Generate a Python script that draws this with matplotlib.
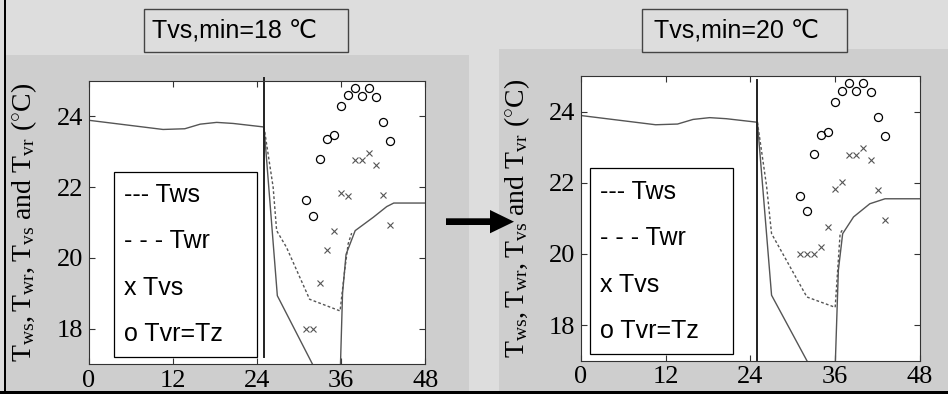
import matplotlib
matplotlib.use("Agg")
import matplotlib.pyplot as plt
from matplotlib.patches import Rectangle, Polygon

# ── Data ─────────────────────────────────────────────────────────────────────
TITLES = ["Tvs,min=18 \u2103", "Tvs,min=20 \u2103"]
X_TICKS = [0, 12, 24, 36, 48]
Y_TICKS = [18, 20, 22, 24]
LEGEND_ROWS = ["--- Tws", "- - - Twr", "x Tvs", "o Tvr=Tz"]
SWITCH_HOUR = 25

hours = [31, 32, 33, 34, 35, 36, 37, 38, 39, 40, 41, 42, 43]

# left panel (Tvs,min = 18)
tws_l_x = [0, 10.6, 13.7, 15.9, 18.25, 20.6, 25, 26.9, 31.9, 35.7, 36.2, 36.7, 38.0, 40.6, 42.5, 43.5, 48]
tws_l_y = [23.89, 23.63, 23.65, 23.78, 23.83, 23.80, 23.70, 18.93, 17.0, 15.6, 19.0, 20.1, 20.77, 21.15, 21.45, 21.55, 21.55]
twr_l_x = [25, 26.3, 26.8, 28.2, 31.5, 35.85, 36.5, 37.0, 37.5]
twr_l_y = [23.70, 22.0, 20.77, 20.30, 18.83, 18.50, 19.64, 20.40, 20.70]
tvs_l = [18.0, 18.0, 19.29, 20.21, 20.76, 21.84, 21.75, 22.78, 22.76, 22.97, 22.63, 21.77, 20.92]
tvr_l = [21.65, 21.18, 22.80, 23.36, 23.46, 24.28, 24.60, 24.80, 24.58, 24.80, 24.54, 23.84, 23.30]

# right panel (Tvs,min = 20)
tws_r_x = [0, 10.6, 13.7, 15.9, 18.25, 20.6, 25, 27.0, 32.0, 35.8, 36.45, 37.06, 38.6, 40.9, 43.05, 48]
tws_r_y = [23.89, 23.63, 23.65, 23.78, 23.83, 23.80, 23.70, 18.84, 17.0, 15.6, 19.54, 20.57, 21.04, 21.41, 21.55, 21.55]
twr_r_x = [25, 26.3, 27.0, 32.0, 36.0, 36.7, 37.1]
twr_r_y = [23.70, 21.90, 20.57, 18.79, 18.50, 20.57, 20.70]
tvs_r = [20.0, 20.0, 20.0, 20.19, 20.76, 21.83, 22.02, 22.79, 22.78, 22.98, 22.63, 21.79, 20.94]
tvr_r = [21.62, 21.20, 22.81, 23.35, 23.44, 24.26, 24.59, 24.79, 24.59, 24.79, 24.54, 23.84, 23.30]

# ── Layout (pixel boxes, top-left origin) ────────────────────────────────────
W, H = 948, 394
TOP_BG = "#dddddd"
PANEL_BG = "#cecece"

plt.rcParams["mathtext.fontset"] = "custom"
plt.rcParams["mathtext.rm"] = "Liberation Serif"
plt.rcParams["mathtext.it"] = "Liberation Serif"


def fx(x):
    return x / W


def fy(y):
    return 1 - y / H


def fig_rect(fig, x0, y0, x1, y1, **kw):
    r = Rectangle((fx(x0), fy(y1)), fx(x1) - fx(x0), fy(y0) - fy(y1),
                  transform=fig.transFigure, **kw)
    fig.add_artist(r)
    return r


fig = plt.figure(figsize=(W / 100, H / 100), dpi=100)
fig.patch.set_facecolor(TOP_BG)

# grey panels behind the plots + black frame edges
fig_rect(fig, 6, 55, 469, 391, facecolor=PANEL_BG, edgecolor="none", zorder=-2)
fig_rect(fig, 499, 49, 948, 391, facecolor=PANEL_BG, edgecolor="none", zorder=-2)
fig_rect(fig, 3.5, 0, 6, 394, facecolor="black", edgecolor="none", zorder=-1)
fig_rect(fig, 0, 391, 948, 394, facecolor="black", edgecolor="none", zorder=-1)

panels = [
    dict(ax_box=(88.7, 81, 425.3, 364), title_box=(143.7, 9.3, 348.3, 52.3), title_x=151.7,
         legend_box=(113.7, 171.7, 257.3, 357.3), ylabel_x=24, vline=(25.085, 17.2),
         tws=(tws_l_x, tws_l_y), twr=(twr_l_x, twr_l_y), tvs=tvs_l, tvr=tvr_l, title=TITLES[0]),
    dict(ax_box=(580.7, 76, 920, 360.7), title_box=(642, 9.3, 846.7, 52.3), title_x=654,
         legend_box=(589.7, 168.3, 733.3, 354.3), ylabel_x=517, vline=(24.89, 17.02),
         tws=(tws_r_x, tws_r_y), twr=(twr_r_x, twr_r_y), tvs=tvs_r, tvr=tvr_r, title=TITLES[1]),
]

ylabel = r"$\mathrm{T_{ws},T_{wr},T_{vs}\ and\ T_{vr}\ (^{\circ}C)}$"

for p in panels:
    x0, y0, x1, y1 = p["ax_box"]
    ax = fig.add_axes([fx(x0), fy(y1), fx(x1) - fx(x0), fy(y0) - fy(y1)])
    ax.set_facecolor("white")
    ax.set_xlim(0, 48)
    ax.set_ylim(17, 25)
    ax.set_xticks(X_TICKS)
    ax.set_yticks(Y_TICKS)
    ax.tick_params(direction="in", length=4, width=0.8, color="#333333",
                   top=True, right=True, labelsize=19, pad=4)
    for lab in ax.get_xticklabels() + ax.get_yticklabels():
        lab.set_fontfamily("Liberation Serif")
    for s in ax.spines.values():
        s.set_linewidth(0.8)
        s.set_color("#333333")

    ax.plot(*p["tws"], color="#555555", lw=1.0)
    ax.plot(*p["twr"], color="#555555", lw=1.0, dashes=(2, 1.6))
    ax.plot(hours, p["tvs"], "x", color="#555555", ms=3.8, mew=0.8)
    ax.plot(hours, p["tvr"], "o", mfc="none", mec="black", ms=5.8, mew=0.9)
    ax.plot([SWITCH_HOUR, SWITCH_HOUR], list(p["vline"]), color="#222222", lw=1.4, clip_on=False)

    # title box
    tx0, ty0, tx1, ty1 = p["title_box"]
    fig_rect(fig, tx0, ty0, tx1, ty1, facecolor=TOP_BG, edgecolor="#444444", lw=1.0, zorder=1)
    fig.text(fx(p["title_x"]), fy((ty0 + ty1) / 2), p["title"], fontsize=18,
             family=["Liberation Sans", "DejaVu Sans"], ha="left", va="center", zorder=2)

    # hand-drawn legend box
    lx0, ly0, lx1, ly1 = p["legend_box"]
    fig_rect(fig, lx0, ly0, lx1, ly1, facecolor="white", edgecolor="black", lw=0.9, zorder=1)
    row_h = (ly1 - ly0) / 4
    for i, row in enumerate(LEGEND_ROWS):
        fig.text(fx(lx0 + 10.3), fy(ly0 + row_h * (i + 0.5)), row, fontsize=18,
                 family="Liberation Sans", ha="left", va="center", zorder=2)

    fig.text(fx(p["ylabel_x"]), fy((y0 + y1) / 2), ylabel, fontsize=20,
             rotation=90, ha="center", va="center")

# arrow between the two panels
arrow = Polygon([(fx(446), fy(218.3)), (fx(490), fy(218.3)), (fx(490), fy(210)),
                 (fx(514), fy(221.7)), (fx(490), fy(233.3)), (fx(490), fy(225)),
                 (fx(446), fy(225))], closed=True, facecolor="black", edgecolor="none",
                transform=fig.transFigure, zorder=3)
fig.add_artist(arrow)

fig.savefig("out.png", dpi=100, facecolor=fig.get_facecolor())
